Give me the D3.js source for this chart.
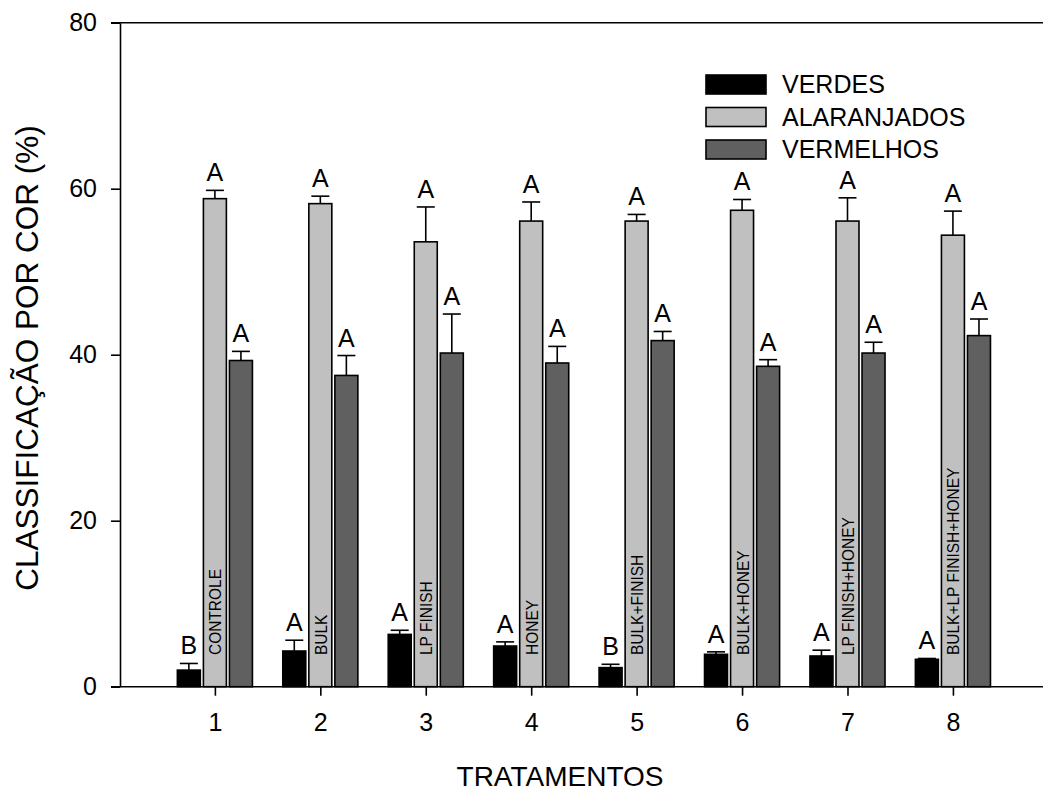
<!DOCTYPE html>
<html><head><meta charset="utf-8">
<script src="https://cdn.jsdelivr.net/npm/d3@7"></script>
<style>body{margin:0;background:#fff}svg{display:block;font-family:"Liberation Sans",Arial,sans-serif}</style>
</head><body><svg id="c" width="1043" height="793"></svg>
<script>
const treatments = [1,2,3,4,5,6,7,8];
const treatmentNames = ["CONTROLE","BULK","LP FINISH","HONEY","BULK+FINISH","BULK+HONEY","LP FINISH+HONEY","BULK+LP FINISH+HONEY"];
const seriesNames = ["VERDES","ALARANJADOS","VERMELHOS"];
const seriesColors = ["#000000","#c0c0c0","#606060"];
const verdes = [2.0,4.3,6.3,4.9,2.3,3.9,3.7,3.3];
const verdesErr = [0.8,1.3,0.5,0.5,0.4,0.3,0.7,0.1];
const verdesLetters = ["B","A","A","A","B","A","A","A"];
const alaranjados = [58.8,58.2,53.6,56.1,56.1,57.4,56.1,54.4];
const alaranjadosErr = [1.0,0.9,4.2,2.3,0.8,1.3,2.8,2.9];
const alaranjadosLetters = ["A","A","A","A","A","A","A","A"];
const vermelhos = [39.3,37.5,40.2,39.0,41.7,38.6,40.2,42.3];
const vermelhosErr = [1.1,2.4,4.7,2.0,1.1,0.8,1.3,2.0];
const vermelhosLetters = ["A","A","A","A","A","A","A","A"];
const yTicks = [0,20,40,60,80];

const svg = d3.select("#c");
const x = d3.scaleLinear().domain([0.1, 8.86]).range([120, 1043.6]);
const y = d3.scaleLinear().domain([0, 80]).range([686.7, 22.7]);

const series = [
  {vals: verdes, err: verdesErr, letters: verdesLetters, off: -0.247},
  {vals: alaranjados, err: alaranjadosErr, letters: alaranjadosLetters, off: 0},
  {vals: vermelhos, err: vermelhosErr, letters: vermelhosLetters, off: 0.247}
];
const bw = x(0.218) - x(0);

series.forEach((s, si) => {
  const g = svg.append("g");
  treatments.forEach((t, i) => {
    const cx = x(t + s.off);
    const top = y(s.vals[i]);
    const et = y(s.vals[i] + s.err[i]);
    g.append("line").attr("x1", cx).attr("x2", cx).attr("y1", top).attr("y2", et).attr("stroke","#000").attr("stroke-width",1.6);
    g.append("line").attr("x1", cx-9).attr("x2", cx+9).attr("y1", et).attr("y2", et).attr("stroke","#000").attr("stroke-width",1.6);
    g.append("rect").attr("x", cx-bw/2).attr("y", top).attr("width", bw).attr("height", y(0)-top)
      .attr("fill", seriesColors[si]).attr("stroke","#000").attr("stroke-width",1.6);
    g.append("text").attr("x", cx).attr("y", et-9).attr("text-anchor","middle")
      .attr("font-size",25).attr("fill","#000").text(s.letters[i]);
  });
});

// in-bar treatment labels
treatments.forEach((t, i) => {
  const cx = x(t);
  svg.append("text").attr("transform", `translate(${cx+6.5},655) rotate(-90) scale(1,1.12)`)
    .attr("font-size",15.5).attr("fill","#000").text(treatmentNames[i]);
});

// axes
svg.append("line").attr("x1",111).attr("x2",1043).attr("y1",y(0)).attr("y2",y(0)).attr("stroke","#000").attr("stroke-width",1.6);
svg.append("line").attr("x1",111).attr("x2",1043).attr("y1",y(80)).attr("y2",y(80)).attr("stroke","#000").attr("stroke-width",1.6);
const ya = svg.append("g").attr("transform","translate(120,0)")
  .call(d3.axisLeft(y).tickValues(yTicks).tickSize(9).tickSizeOuter(0).tickPadding(14));
ya.select(".domain").attr("stroke-width",1.6);
ya.selectAll(".tick line").attr("stroke-width",1.6);
ya.selectAll("text").attr("font-size",25).attr("font-family","Liberation Sans, Arial, sans-serif").attr("fill","#000");
const xa = svg.append("g").attr("transform",`translate(0,${y(0)})`)
  .call(d3.axisBottom(x).tickValues(treatments).tickSize(9).tickSizeOuter(0).tickPadding(18));
xa.select(".domain").remove();
xa.selectAll(".tick line").attr("stroke-width",1.6);
xa.selectAll("text").attr("font-size",25).attr("font-family","Liberation Sans, Arial, sans-serif").attr("fill","#000");

svg.append("text").attr("x",560).attr("y",786).attr("text-anchor","middle").attr("font-size",28).text("TRATAMENTOS");
svg.append("text").attr("transform","translate(38,358) rotate(-90)").attr("text-anchor","middle").attr("font-size",31.5).text("CLASSIFICAÇÃO POR COR (%)");

// legend
const lg = svg.append("g");
seriesNames.forEach((n, i) => {
  const yy = 75 + i*32.5;
  lg.append("rect").attr("x",706).attr("y",yy).attr("width",60).attr("height",19)
    .attr("fill",seriesColors[i]).attr("stroke","#000").attr("stroke-width",1.6);
  lg.append("text").attr("x",782).attr("y",yy+18).attr("font-size",25).text(n);
});
</script></body></html>
